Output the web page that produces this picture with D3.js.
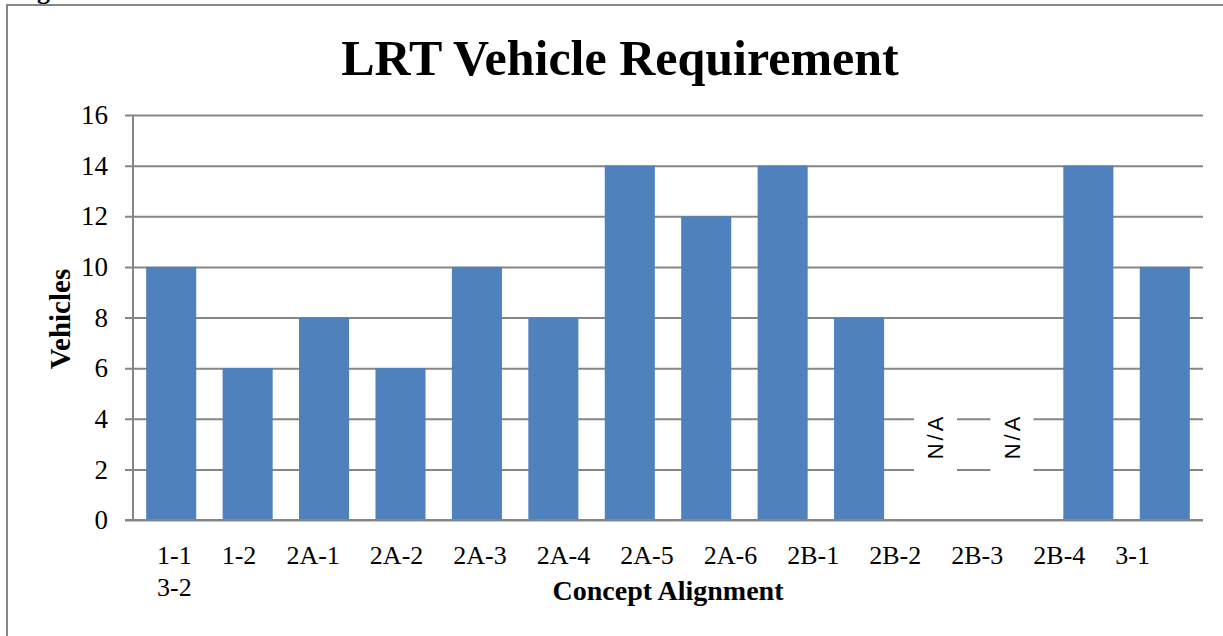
<!DOCTYPE html>
<html>
<head>
<meta charset="utf-8">
<script src="https://cdn.jsdelivr.net/npm/d3@7"></script>
<style>
  html, body { margin: 0; padding: 0; background: #fff; overflow: hidden; }
  svg { display: block; }
</style>
</head>
<body>
<svg id="chart" width="1223" height="636"></svg>
<script>
// Alignments (one bar each) and the number of LRT vehicles each needs; null = N/A
const categories = ["1-1", "1-2", "2A-1", "2A-2", "2A-3", "2A-4", "2A-5", "2A-6",
                    "2B-1", "2B-2", "2B-3", "2B-4", "3-1", "3-2"];
const vehicles   = [10, 6, 8, 6, 10, 8, 14, 12, 14, 8, null, null, 14, 10];

// Category labels as they run along the axis (the last one wraps to a second line)
const axisLabels   = ["1-1", "1-2", "2A-1", "2A-2", "2A-3", "2A-4", "2A-5", "2A-6",
                      "2B-1", "2B-2", "2B-3", "2B-4", "3-1"];
const wrappedLabel = "3-2";

const yTicks = [0, 2, 4, 6, 8, 10, 12, 14, 16];

const chartTitle = "LRT Vehicle Requirement";
const xTitle = "Concept Alignment";
const yTitle = "Vehicles";
const naText = "N/A";

const W = 1223, H = 636;
const plot = { left: 133, right: 1203, top: 115, bottom: 520 };
const gridColor = "#868686";
const barColor = "#4F81BD";
const serif = "'Liberation Serif', 'DejaVu Serif', serif";

const svg = d3.select("#chart");

// Chart frame (continues past the right and bottom edges)
svg.append("rect")
  .attr("x", 7).attr("y", 5)
  .attr("width", W + 20).attr("height", H + 20)
  .attr("fill", "#fff")
  .attr("stroke", gridColor).attr("stroke-width", 2);

// Caption line above the frame, mostly cut off at the top
svg.append("text")
  .attr("x", 14).attr("y", -1)
  .attr("font-family", serif).attr("font-weight", "bold").attr("font-size", 26)
  .attr("fill", "#000")
  .text("Figure");

const x = d3.scaleBand()
  .domain(categories)
  .range([plot.left, plot.right])
  .paddingInner(0.345)
  .paddingOuter(0.1725);

const y = d3.scaleLinear()
  .domain([0, 16])
  .range([plot.bottom, plot.top]);

// Horizontal gridlines with small ticks to the left of the axis
const yAxis = d3.axisLeft(y)
  .tickValues(yTicks)
  .tickSize(-(plot.right - plot.left))
  .tickPadding(25)
  .tickFormat(d3.format("d"));

const gy = svg.append("g")
  .attr("transform", `translate(${plot.left},0)`)
  .call(yAxis);
gy.select(".domain").remove();
gy.selectAll(".tick line")
  .attr("x1", -8)
  .attr("stroke", gridColor)
  .attr("stroke-width", 2);
gy.selectAll(".tick text")
  .attr("font-family", serif)
  .attr("font-size", 27)
  .attr("fill", "#000");

// Vertical axis line
svg.append("line")
  .attr("x1", plot.left).attr("x2", plot.left)
  .attr("y1", plot.top).attr("y2", plot.bottom)
  .attr("stroke", gridColor).attr("stroke-width", 2);

// Bars
const data = categories.map((c, i) => ({ cat: c, v: vehicles[i] }));
svg.append("g")
  .selectAll("rect")
  .data(data.filter(d => d.v !== null))
  .join("rect")
  .attr("x", d => x(d.cat))
  .attr("y", d => y(d.v))
  .attr("width", x.bandwidth())
  .attr("height", d => y(0) - y(d.v))
  .attr("fill", barColor);

// N/A markers on a white box over the gridlines
const na = svg.append("g")
  .selectAll("g")
  .data(data.filter(d => d.v === null))
  .join("g")
  .attr("transform", d => `translate(${x(d.cat) + x.bandwidth() / 2},${y(3.3)})`);
na.append("rect")
  .attr("x", -21.5).attr("y", -50)
  .attr("width", 43).attr("height", 96)
  .attr("fill", "#fff");
na.append("text")
  .attr("transform", "rotate(-90)")
  .attr("text-anchor", "middle")
  .attr("dy", "0.36em")
  .attr("font-family", "'Liberation Sans', Arial, sans-serif")
  .attr("font-size", 22)
  .attr("letter-spacing", 3)
  .attr("fill", "#000")
  .text(naText);

// Baseline at zero
svg.append("line")
  .attr("x1", plot.left - 8).attr("x2", plot.right)
  .attr("y1", y(0)).attr("y2", y(0))
  .attr("stroke", gridColor).attr("stroke-width", 2);

// Category labels flow left to right as one line of text with even gaps
const labelStart = 157, labelEnd = 1150;
const labels = svg.append("g")
  .selectAll("text")
  .data(axisLabels)
  .join("text")
  .attr("y", 564)
  .attr("font-family", serif)
  .attr("font-size", 26)
  .attr("fill", "#000")
  .text(d => d);
const widths = labels.nodes().map(n => n.getComputedTextLength());
const gap = (labelEnd - labelStart - d3.sum(widths)) / (axisLabels.length - 1);
let cursor = labelStart;
labels.each(function (d, i) {
  d3.select(this).attr("x", cursor);
  cursor += widths[i] + gap;
});
svg.append("text")
  .attr("x", labelStart)
  .attr("y", 596)
  .attr("font-family", serif)
  .attr("font-size", 26)
  .attr("fill", "#000")
  .text(wrappedLabel);

// Titles
svg.append("text")
  .attr("x", 620).attr("y", 75)
  .attr("text-anchor", "middle")
  .attr("font-family", serif).attr("font-weight", "bold").attr("font-size", 50)
  .attr("fill", "#000")
  .text(chartTitle);

svg.append("text")
  .attr("x", 668).attr("y", 600)
  .attr("text-anchor", "middle")
  .attr("font-family", serif).attr("font-weight", "bold").attr("font-size", 28)
  .attr("fill", "#000")
  .text(xTitle);

svg.append("text")
  .attr("transform", "translate(70,319) rotate(-90)")
  .attr("text-anchor", "middle")
  .attr("font-family", serif).attr("font-weight", "bold").attr("font-size", 29)
  .attr("fill", "#000")
  .text(yTitle);
</script>
</body>
</html>
